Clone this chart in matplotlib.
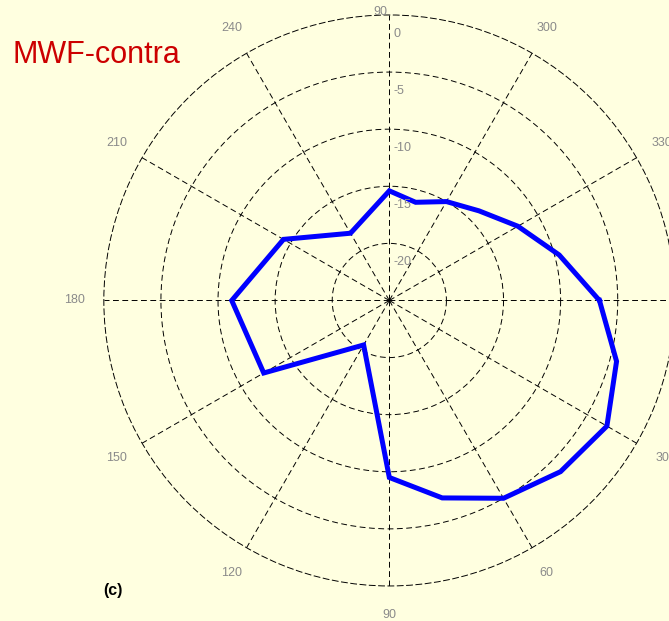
import numpy as np
import matplotlib
matplotlib.use("Agg")
import matplotlib.pyplot as plt
from matplotlib.transforms import offset_copy

plt.rcParams["font.family"] = ["Liberation Sans", "DejaVu Sans"]

# directivity pattern, level in dB per azimuth (degrees, clockwise from east)
angles_deg = [0, 15, 30, 45, 60, 75, 90, 120, 150, 180, 210, 240,
              270, 285, 300, 315, 330, 345]
level_db = [-6.6, -4.4, -3.0, -3.8, -5.0, -7.1, -9.5, -20.5, -12.3, -11.2,
            -14.3, -18.2, -15.4, -16.1, -15.0, -13.9, -12.0, -9.6]

ring_values = [-20, -15, -10, -5, 0]
ring_labels = ["-20", "-15", "-10", "-5", "0"]
spoke_angles = [30, 60, 90, 120, 150, 180, 210, 240, 300, 330]
spoke_labels = ["30", "60", "90", "120", "150", "180", "210", "240", "300", "330"]

bg = "#ffffe0"
gray = "#8a8a8a"
dash = (0, (6, 3.6))

fig = plt.figure(figsize=(6.69, 6.21), dpi=100, facecolor=bg)
ax = fig.add_axes([0.1552, 0.0564, 0.8535, 0.9195], projection="polar")
ax.set_facecolor(bg)
ax.set_theta_zero_location("E")
ax.set_theta_direction(-1)
ax.set_ylim(-25, 0)

ax.set_xticks(np.deg2rad(np.arange(0, 360, 30)))
ax.set_xticklabels([])
ax.set_yticks(ring_values[:-1])
ax.set_yticklabels([])
ax.tick_params(length=0)
ax.grid(True, color="k", lw=0.7, linestyle=dash)
ax.spines["polar"].set_color("k")
ax.spines["polar"].set_linewidth(0.7)
ax.spines["polar"].set_linestyle(dash)

theta = np.deg2rad(angles_deg + angles_deg[:1])
r = level_db + level_db[:1]
ax.plot(theta, r, color="#0000ff", lw=3.6, solid_joinstyle="miter")

# ring labels along the upper spoke
ring_tr = offset_copy(ax.transData, fig, x=4, y=-19, units="dots")
for v, lab in zip(ring_values, ring_labels):
    ax.text(np.deg2rad(270), v, lab, transform=ring_tr, ha="left", va="center",
            color=gray, fontsize=9)

# azimuth labels outside the outer ring
for a, lab in zip(spoke_angles, spoke_labels):
    ax.text(np.deg2rad(a), 2.58, lab, ha="center", va="center",
            color=gray, fontsize=9, clip_on=False)
top_tr = offset_copy(ax.transData, fig, x=-9, y=2.5, units="dots")
ax.text(np.deg2rad(270), 0, "90", transform=top_tr, ha="center", va="center",
        color=gray, fontsize=9)

fig.text(13 / 669, 1 - 55 / 621, "MWF-contra", color="#cc0000", fontsize=22,
         ha="left", va="center")
fig.text(103 / 669, 1 - 590 / 621, "(c)", color="k", fontsize=11.5,
         fontweight="bold", ha="left", va="center")

fig.savefig("out.png", dpi=100, facecolor=bg)
